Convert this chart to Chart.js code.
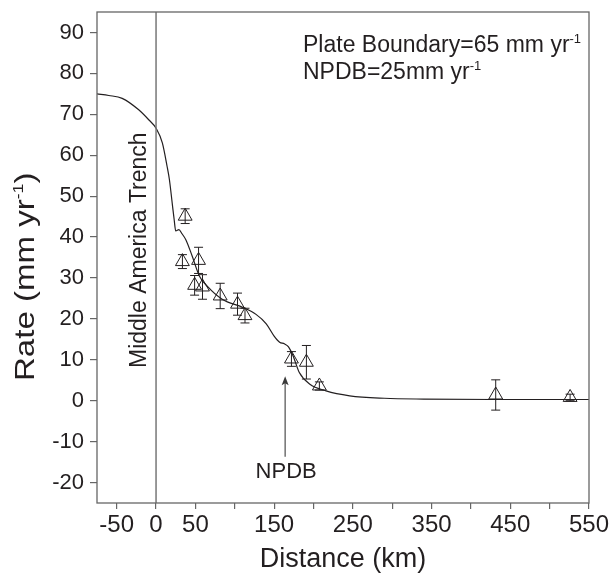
<!DOCTYPE html>
<html>
<head>
<meta charset="utf-8">
<script src="https://cdn.jsdelivr.net/npm/chart.js@4.4.1/dist/chart.umd.min.js"></script>
<style>
  html, body { margin: 0; padding: 0; background: #fff; }
  #wrap { width: 611px; height: 578px; }
</style>
</head>
<body>
<div id="wrap"><canvas id="rateChart" width="611" height="578"></canvas></div>
<script>
// Observed rates (triangles) with error bars
const siteKm   = [37, 33.5, 54, 49, 59, 81.5, 103.5, 113, 172, 191, 207.5, 431.5, 526];
const siteRate = [45.1, 34.0, 34.3, 28.2, 27.8, 25.6, 23.6, 20.8, 10.2, 9.4, 3.6, 1.4, 0.8];
const siteErr  = [1.8, 1.7, 3.2, 2.4, 3.0, 3.1, 2.7, 1.8, 1.8, 4.1, 1.0, 3.7, 0.8];

// Model curve
const modelKm   = [-75, -60, -43, -22, -9, 0, 8, 14, 17, 21, 23, 25, 29, 33, 38, 46, 55, 65, 84, 110, 127, 140, 150, 157, 163, 168, 174, 182, 195, 216, 246, 290, 340, 430, 550];
const modelRate = [75, 74.6, 73.9, 71.1, 68.6, 66.6, 63, 57.3, 54, 47.5, 44.3, 41.5, 41.8, 40.8, 39.3, 35.3, 30.5, 28, 24.8, 22.8, 21.1, 18.8, 15.8, 14.3, 13.9, 13.2, 11.0, 6.9, 4.1, 2.4, 1.2, 0.6, 0.4, 0.3, 0.3];

// Trench position and NPDB arrow (km, rate)
const trenchKm = 0;
const npdbKm = 164;
const npdbArrow = [-13.7, 6];

// Axis ticks
const xTickValues = [-50, 0, 50, 100, 150, 200, 250, 300, 350, 400, 450, 500, 550];
const xTickLabels = ['-50', '0', '50', '', '150', '', '250', '', '350', '', '450', '', '550'];
const yTickValues = [-20, -10, 0, 10, 20, 30, 40, 50, 60, 70, 80, 90];

const FONT = '"Liberation Sans", Arial, Helvetica, sans-serif';
const INK = '#231f20';
const FRAME = '#666666';

// build error bar segments, separated by gaps
let errPts = [];
for (let i = 0; i < siteKm.length; i++) {
    errPts.push({x: siteKm[i], y: siteRate[i] - siteErr[i]});
    errPts.push({x: siteKm[i], y: siteRate[i] + siteErr[i]});
    errPts.push({x: siteKm[i], y: null});
}

// text with superscript parts: [[text, isSup], ...]
function drawParts(ctx, parts, x, y, size, supSize) {
    let cx = x;
    parts.forEach(p => {
        ctx.font = (p[1] ? supSize : size) + 'px ' + FONT;
        ctx.fillText(p[0], cx, p[1] ? y - size * 0.38 : y);
        cx += ctx.measureText(p[0]).width;
    });
}

const decor = {
    id: 'decor',
    afterDraw(chart) {
        const {ctx, chartArea: a, scales} = chart;
        const xs = scales.x, ys = scales.y;
        ctx.save();

        // frame
        ctx.strokeStyle = FRAME;
        ctx.lineWidth = 1.3;
        ctx.strokeRect(a.left, a.top, a.right - a.left, a.bottom - a.top);

        ctx.fillStyle = INK;
        ctx.textAlign = 'left';
        ctx.textBaseline = 'alphabetic';

        // y title
        ctx.save();
        ctx.translate(34, 381);
        ctx.rotate(-Math.PI / 2);
        ctx.scale(1.18, 1);
        drawParts(ctx, [['Rate (mm yr', false], ['-1', true], [')', false]], 0, 0, 28, 15);
        ctx.restore();

        // trench label
        ctx.save();
        ctx.translate(xs.getPixelForValue(trenchKm) - 10, 368);
        ctx.rotate(-Math.PI / 2);
        ctx.font = '23px ' + FONT;
        ctx.fillText('Middle America Trench', 0, 0);
        ctx.restore();

        // legend text
        drawParts(ctx, [['Plate Boundary=65 mm yr', false], ['-1', true]], 303, 52, 23, 13);
        drawParts(ctx, [['NPDB=25mm yr', false], ['-1', true]], 303, 79, 23, 13);

        // NPDB arrow
        const ax = xs.getPixelForValue(npdbKm);
        const y0 = ys.getPixelForValue(npdbArrow[0]);
        const y1 = ys.getPixelForValue(npdbArrow[1]);
        ctx.strokeStyle = '#5a5a5a';
        ctx.fillStyle = '#3a3a3a';
        ctx.lineWidth = 1.3;
        ctx.beginPath();
        ctx.moveTo(ax, y0);
        ctx.lineTo(ax, y1 + 6);
        ctx.stroke();
        ctx.beginPath();
        ctx.moveTo(ax, y1);
        ctx.lineTo(ax - 3.5, y1 + 9);
        ctx.lineTo(ax, y1 + 7);
        ctx.lineTo(ax + 3.5, y1 + 9);
        ctx.closePath();
        ctx.fill();

        ctx.fillStyle = INK;
        ctx.textAlign = 'center';
        ctx.font = '22px ' + FONT;
        ctx.fillText('NPDB', ax + 1, y0 + 21);

        ctx.restore();
    }
};

const ctx = document.getElementById('rateChart').getContext('2d');
new Chart(ctx, {
    type: 'scatter',
    data: {
        datasets: [
            {
                data: [{x: trenchKm, y: -25}, {x: trenchKm, y: 95}],
                showLine: true, borderColor: '#777777', borderWidth: 1.5, pointRadius: 0
            },
            {
                data: modelKm.map((k, i) => ({x: k, y: modelRate[i]})),
                showLine: true, borderColor: INK, borderWidth: 1.2, pointRadius: 0,
                cubicInterpolationMode: 'monotone'
            },
            {
                data: errPts,
                showLine: true, spanGaps: false, borderColor: INK, borderWidth: 1,
                pointStyle: 'line', pointRadius: 4.5, pointBorderColor: INK, pointBorderWidth: 1
            },
            {
                data: siteKm.map((k, i) => ({x: k, y: siteRate[i]})),
                pointStyle: 'triangle', pointRadius: 8, pointBorderColor: INK,
                pointBackgroundColor: 'rgba(0,0,0,0)', pointBorderWidth: 1
            }
        ]
    },
    options: {
        responsive: false,
        animation: false,
        events: [],
        layout: { padding: { top: 12, right: 22, bottom: 0, left: 0 } },
        plugins: { legend: { display: false }, tooltip: { enabled: false } },
        scales: {
            x: {
                type: 'linear', min: -75, max: 550,
                afterBuildTicks: s => { s.ticks = xTickValues.map(v => ({value: v})); },
                afterFit: s => { s.height = 75; s.paddingLeft = 0; s.paddingRight = 0; },
                border: { display: false },
                grid: { drawOnChartArea: false, drawTicks: true, tickLength: 6, color: FRAME, lineWidth: 1.2 },
                ticks: {
                    autoSkip: false, maxRotation: 0, padding: 2, color: INK,
                    font: { family: FONT, size: 24 },
                    callback: v => xTickLabels[xTickValues.indexOf(v)]
                },
                title: {
                    display: true, text: 'Distance (km)', color: INK,
                    font: { family: FONT, size: 27 }, padding: { top: 0, bottom: 2 }
                }
            },
            y: {
                type: 'linear', min: -25, max: 95,
                afterBuildTicks: s => { s.ticks = yTickValues.map(v => ({value: v})); },
                afterFit: s => { s.width = 97; s.paddingTop = 0; s.paddingBottom = 0; },
                border: { display: false },
                grid: { drawOnChartArea: false, drawTicks: true, tickLength: 7, color: FRAME, lineWidth: 1.2 },
                ticks: {
                    padding: 6, color: INK,
                    font: { family: FONT, size: 22 },
                    callback: v => String(v)
                }
            }
        }
    },
    plugins: [decor]
});
</script>
</body>
</html>
